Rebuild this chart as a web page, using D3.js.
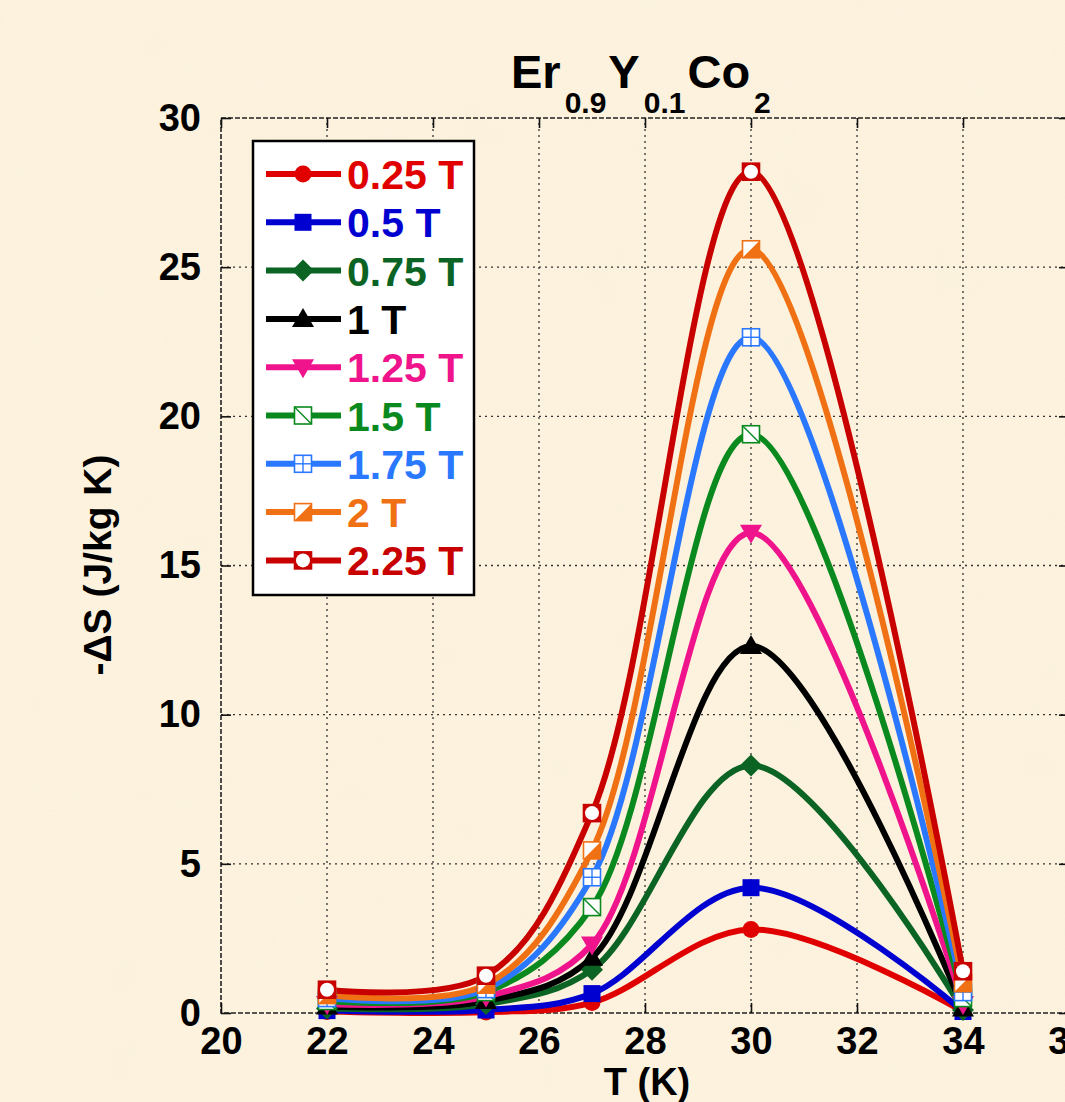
<!DOCTYPE html>
<html>
<head>
<meta charset="utf-8">
<script src="https://cdn.jsdelivr.net/npm/d3@7"></script>
<style>
  html, body { margin: 0; padding: 0; background: #fbf1dc; }
  svg { display: block; font-family: "Liberation Sans", Arial, sans-serif; font-weight: bold; }
</style>
</head>
<body>
<div id="chart"></div>
<script>
// Temperatures (K)
const temps = [22, 25, 27, 30, 34]

// Applied field labels
const fields = ['0.25 T', '0.5 T', '0.75 T', '1 T', '1.25 T', '1.5 T', '1.75 T', '2 T', '2.25 T']

// -dS values (J/kg K) per field
const s025 = [0.05, 0.03, 0.35, 2.8, 0.05]
const s050 = [0.08, 0.1, 0.65, 4.2, 0.05]
const s075 = [0.15, 0.3, 1.45, 8.3, 0.1]
const s100 = [0.22, 0.4, 1.85, 12.3, 0.15]
const s125 = [0.3, 0.55, 2.3, 16.1, 0.3]
const s150 = [0.4, 0.7, 3.55, 19.4, 0.5]
const s175 = [0.5, 0.8, 4.55, 22.65, 0.7]
const s200 = [0.6, 0.95, 5.45, 25.6, 1.0]
const s225 = [0.78, 1.25, 6.7, 28.2, 1.4]

const seriesValues = [s025, s050, s075, s100, s125, s150, s175, s200, s225]

const colors = ['#e00000', '#0000d0', '#0b6424', '#000000', '#f0148c', '#0a8a1e', '#2a78ff', '#f07014', '#c80000']
const markers = ['circle', 'square', 'diamond', 'triUp', 'triDown', 'sqDiag', 'sqCross', 'sqHalf', 'sqCircle']

const xTicks = [20, 22, 24, 26, 28, 30, 32, 34, 36]
const yTicks = [0, 5, 10, 15, 20, 25, 30]

const W = 1065, H = 1102
const x = d3.scaleLinear().domain([20, 36]).range([221, 1069])
const y = d3.scaleLinear().domain([0, 30]).range([1013, 118])

const svg = d3.select('#chart').append('svg')
    .attr('width', W)
    .attr('height', H)

// parchment background
const defs = svg.append('defs')
const filt = defs.append('filter').attr('id', 'paper').attr('x', 0).attr('y', 0).attr('width', '100%').attr('height', '100%')
filt.append('feTurbulence').attr('type', 'fractalNoise').attr('baseFrequency', 0.012).attr('numOctaves', 3).attr('seed', 4).attr('result', 'noise')
filt.append('feColorMatrix').attr('in', 'noise').attr('type', 'matrix')
    .attr('values', '0 0 0 0 0.93  0 0 0 0 0.86  0 0 0 0 0.70  0 0 0 0.9 -0.38')
svg.append('rect').attr('width', W).attr('height', H).attr('fill', '#fcf2de')
svg.append('rect').attr('width', W).attr('height', H).attr('filter', 'url(#paper)').attr('opacity', 0.5)

const [x0, x1] = x.range()
const [yb, yt] = y.range()

// gridlines
const grid = svg.append('g').attr('stroke', '#333').attr('stroke-width', 1.3).attr('stroke-dasharray', '2,4')
grid.selectAll('.gx').data(xTicks.slice(1, -1)).enter().append('line')
    .attr('x1', d => x(d)).attr('x2', d => x(d)).attr('y1', yb).attr('y2', yt)
grid.selectAll('.gy').data(yTicks.slice(1, -1)).enter().append('line')
    .attr('x1', x0).attr('x2', x1).attr('y1', d => y(d)).attr('y2', d => y(d))

// frame
svg.append('rect')
    .attr('x', x0).attr('y', yt).attr('width', x1 - x0).attr('height', yb - yt)
    .attr('fill', 'none').attr('stroke', '#222').attr('stroke-width', 1.6).attr('stroke-dasharray', '5,2')

// axes with inward ticks
const xAxisB = d3.axisBottom(x).tickValues(xTicks).tickSize(-10).tickPadding(14).tickFormat(d3.format('d'))
const xAxisT = d3.axisTop(x).tickValues(xTicks).tickSize(-10).tickFormat('')
const yAxisL = d3.axisLeft(y).tickValues(yTicks).tickSize(-10).tickPadding(20).tickFormat(d3.format('d'))
const yAxisR = d3.axisRight(y).tickValues(yTicks).tickSize(-10).tickFormat('')

function styleAxis (g) {
    g.select('.domain').remove()
    g.selectAll('.tick line').attr('stroke', '#111').attr('stroke-width', 1.6)
    g.selectAll('text').attr('fill', '#000').style('font-size', '38px').style('font-weight', 'bold')
        .style('font-family', '"Liberation Sans", Arial, sans-serif')
}
svg.append('g').attr('transform', 'translate(0,' + yb + ')').call(xAxisB).call(styleAxis)
svg.append('g').attr('transform', 'translate(0,' + yt + ')').call(xAxisT).call(styleAxis)
svg.append('g').attr('transform', 'translate(' + x0 + ',0)').call(yAxisL).call(styleAxis)
svg.append('g').attr('transform', 'translate(' + x1 + ',0)').call(yAxisR).call(styleAxis)

// axis titles
svg.append('text')
    .attr('x', 647).attr('y', 1095)
    .attr('text-anchor', 'middle')
    .style('font-size', '38px')
    .text('T (K)')

svg.append('text')
    .attr('transform', 'translate(111,565) rotate(-90)')
    .attr('text-anchor', 'middle')
    .style('font-size', '39px')
    .text('-\u0394S (J/kg K)')

// title with subscripts
const title = svg.append('text').attr('x', 511).attr('y', 88).style('font-size', '47px')
const parts = [['Er', false], ['0.9', true], ['Y', false], ['0.1', true], ['Co', false], ['2', true]]
parts.forEach(p => {
    title.append('tspan')
        .attr('dy', p[1] ? 25 : -25)
        .attr('dx', p[1] ? 4 : 2)
        .style('font-size', p[1] ? '30px' : '47px')
        .text(p[0])
})
title.select('tspan').attr('dy', 0).attr('dx', 0)

// marker drawing
function drawMarker (g, type, color) {
    const s = 8.5
    if (type === 'circle') {
        g.append('circle').attr('r', 8.5).attr('fill', color)
    } else if (type === 'square') {
        g.append('rect').attr('x', -s).attr('y', -s).attr('width', 2 * s).attr('height', 2 * s).attr('fill', color)
    } else if (type === 'diamond') {
        g.append('path').attr('d', 'M0,-11L11,0L0,11L-11,0Z').attr('fill', color)
    } else if (type === 'triUp') {
        g.append('path').attr('d', 'M0,-11L11,8L-11,8Z').attr('fill', color)
    } else if (type === 'triDown') {
        g.append('path').attr('d', 'M0,11L11,-8L-11,-8Z').attr('fill', color)
    } else {
        g.append('rect').attr('x', -s).attr('y', -s).attr('width', 2 * s).attr('height', 2 * s)
            .attr('fill', '#fff').attr('stroke', color).attr('stroke-width', 1.6)
        if (type === 'sqDiag') {
            g.append('line').attr('x1', -s).attr('y1', -s).attr('x2', s).attr('y2', s)
                .attr('stroke', color).attr('stroke-width', 1.4)
        } else if (type === 'sqCross') {
            g.append('line').attr('x1', 0).attr('y1', -s).attr('x2', 0).attr('y2', s).attr('stroke', color).attr('stroke-width', 1.4)
            g.append('line').attr('x1', -s).attr('y1', 0).attr('x2', s).attr('y2', 0).attr('stroke', color).attr('stroke-width', 1.4)
        } else if (type === 'sqHalf') {
            g.append('path').attr('d', `M${s},${-s}L${s},${s}L${-s},${s}Z`).attr('fill', color)
        } else if (type === 'sqCircle') {
            g.select('rect').attr('fill', color)
            g.append('circle').attr('r', 7).attr('fill', '#fff')
        }
    }
}

// curves
const line = d3.line()
    .x((d, i) => x(temps[i]))
    .y(d => y(d))
    .curve(d3.curveCatmullRom.alpha(0.5))

seriesValues.forEach((vals, k) => {
    svg.append('path')
        .datum(vals)
        .attr('d', line)
        .attr('fill', 'none')
        .attr('stroke', colors[k])
        .attr('stroke-width', 6)
        .attr('stroke-linejoin', 'round')
})
seriesValues.forEach((vals, k) => {
    vals.forEach((v, i) => {
        const g = svg.append('g').attr('transform', 'translate(' + x(temps[i]) + ',' + y(v) + ')')
        drawMarker(g, markers[k], colors[k])
    })
})

// legend
const legend = svg.append('g')
legend.append('rect')
    .attr('x', 253).attr('y', 141).attr('width', 221).attr('height', 454)
    .attr('fill', '#fff').attr('stroke', '#000').attr('stroke-width', 2.5)

fields.forEach((f, k) => {
    const ly = 174 + k * 48.3
    legend.append('line')
        .attr('x1', 266).attr('x2', 341).attr('y1', ly).attr('y2', ly)
        .attr('stroke', colors[k]).attr('stroke-width', 6)
    drawMarker(legend.append('g').attr('transform', 'translate(303,' + ly + ')'), markers[k], colors[k])
    legend.append('text')
        .attr('x', 347).attr('y', ly + 15)
        .attr('fill', colors[k])
        .style('font-size', '41px')
        .text(f)
})
</script>
</body>
</html>
